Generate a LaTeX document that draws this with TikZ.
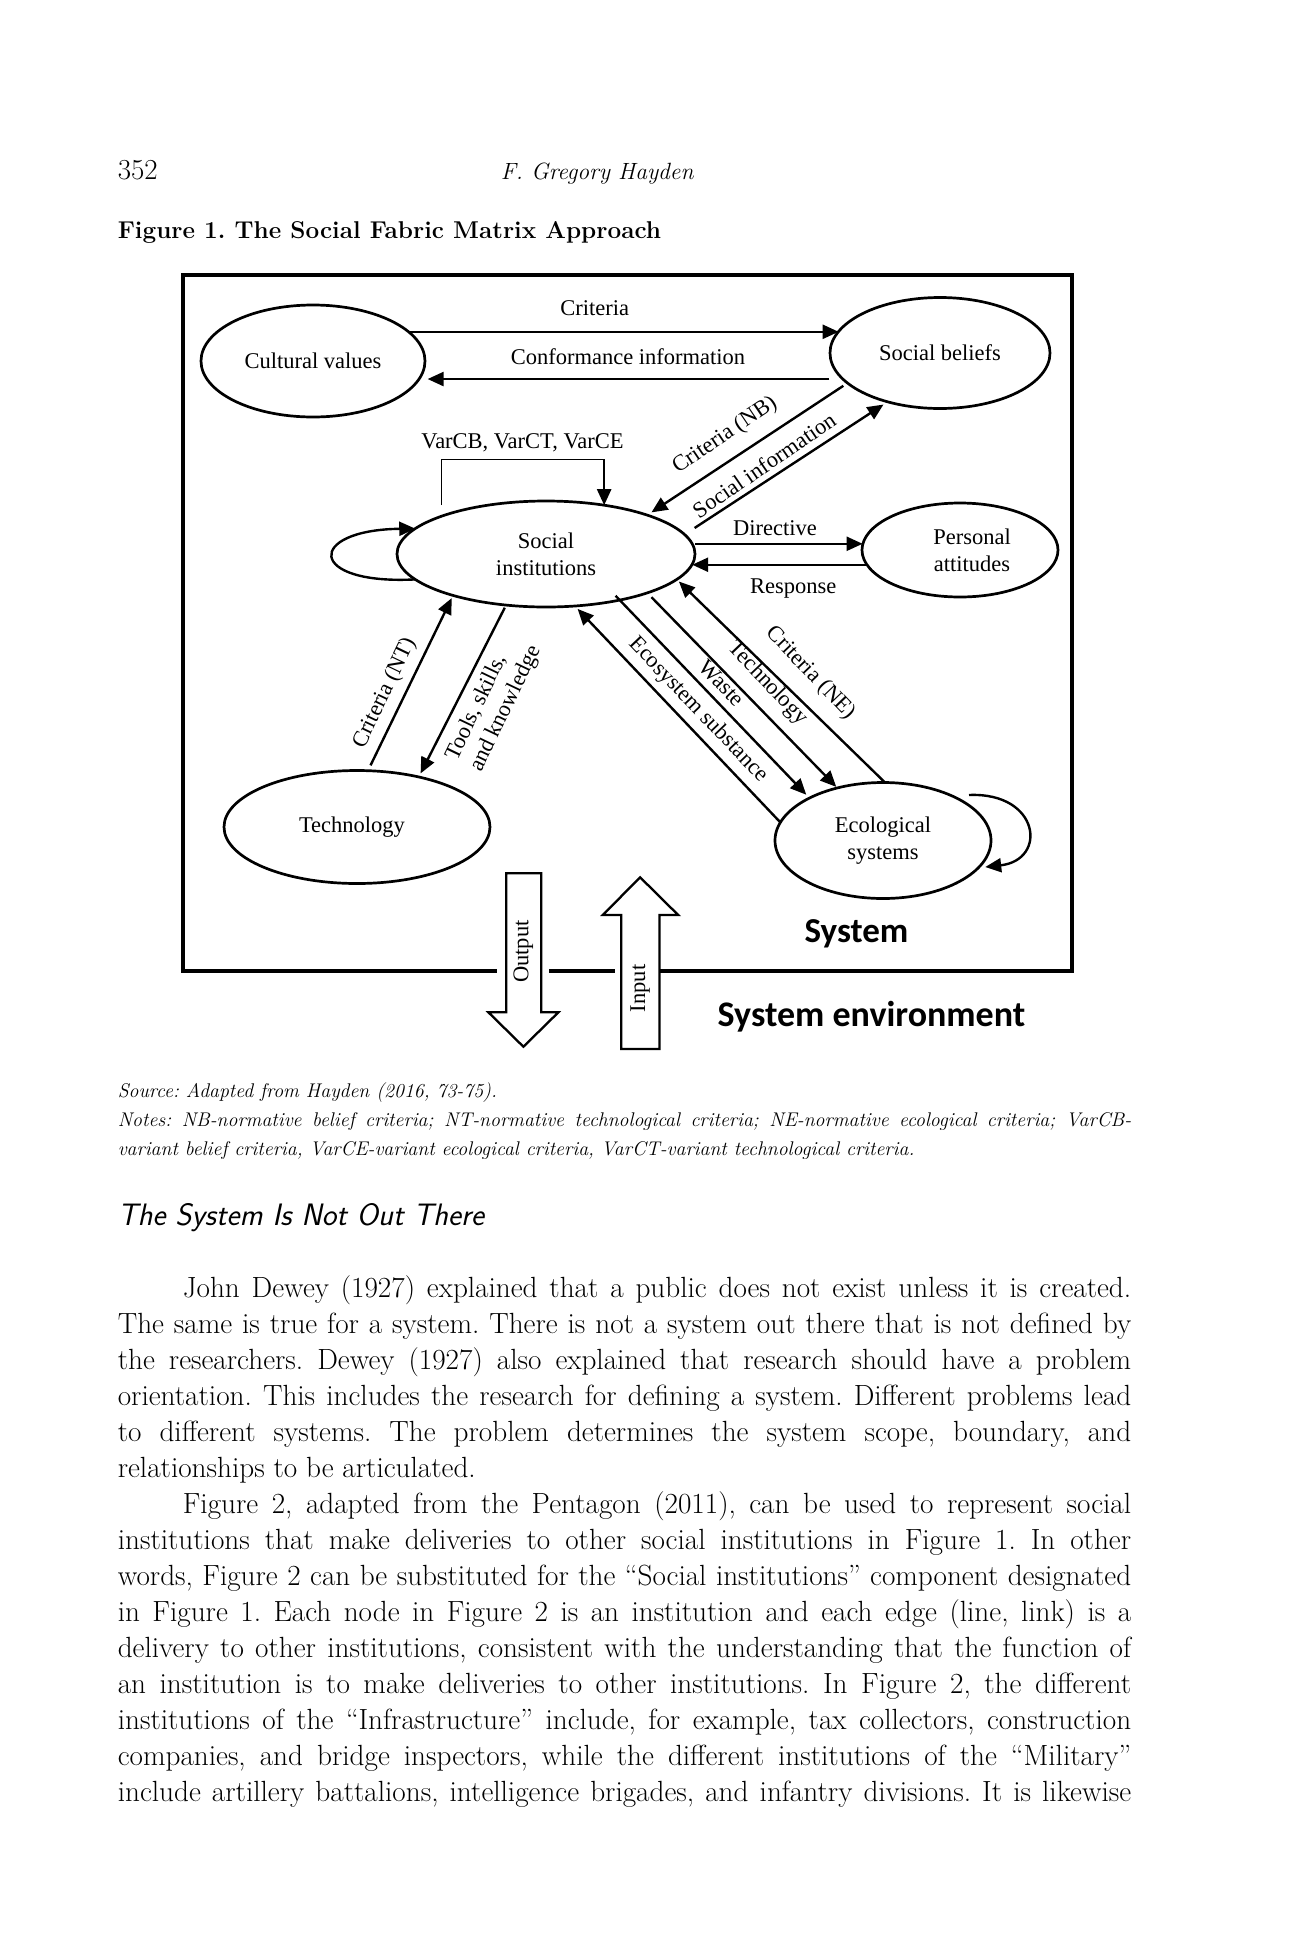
\documentclass[tikz,border=0pt]{standalone}
\usepackage{fontspec}
\newfontfamily\dfont{Liberation Serif}
\newfontfamily\sysfont{Carlito}
\usetikzlibrary{arrows.meta,shapes.geometric}
\begin{document}
\frenchspacing
\begin{tikzpicture}[x=1pt,y=-1pt,
 ell/.style={ellipse, draw, line width=2.7pt, inner sep=0pt, outer sep=0pt, align=center, font=\dfont\fontsize{22.5}{27}\selectfont},
 lab/.style={inner sep=0pt, font=\dfont\fontsize{22.5}{27}\selectfont},
 arr/.style={line width=2.4pt, -{Triangle[length=16pt,width=14pt]}},
 bl/.style={anchor=base west, inner sep=0pt, font=\fontsize{29.2}{36}\selectfont},
 nl/.style={anchor=base west, inner sep=0pt, font=\fontsize{19.8}{28}\selectfont\itshape},
 sys/.style={inner sep=0pt, font=\sysfont\bfseries\fontsize{35}{40}\selectfont},
 blockarrow/.style={draw, fill=white, line width=2.3pt, line join=miter}
]
\fill[white] (0,0) rectangle (1296,1944);
\useasboundingbox (0,0) rectangle (1296,1944);

% ---------- page header ----------
\node[anchor=base west, inner sep=0pt, font=\fontsize{29}{30}\selectfont] (pnum) at (117.6,179) {352};
\node[anchor=base west, inner sep=0pt, font=\fontsize{23.5}{28}\selectfont\itshape] (hdr) at (500.6,179) {F. Gregory Hayden};
\node[anchor=base west, inner sep=0pt, font=\fontsize{24.3}{28}\selectfont\bfseries] (title) at (117.6,238.5) {Figure 1. The Social Fabric Matrix Approach};

% ---------- system box ----------
\draw[line width=4pt] (496.5,970.7) -- (182.7,970.7) -- (182.7,275) -- (1072,275) -- (1072,970.7) -- (660.3,970.7);
\draw[line width=4pt] (549.4,970.7) -- (615.4,970.7);

% ---------- ellipses ----------
\node[ell, minimum width=224pt, minimum height=112pt] (cv) at (313,361) {Cultural values};
\node[ell, minimum width=220pt, minimum height=111pt] (sb) at (940,353) {Social beliefs};
\node[ell, minimum width=298pt, minimum height=106pt] (si) at (546,554) {Social\\institutions};
\node[ell, minimum width=196pt, minimum height=94pt] (pa) at (960,550) {\hspace*{24pt}Personal\\\hspace*{24pt}attitudes};
\node[ell, minimum width=266pt, minimum height=113pt] (tech) at (357,827) {Technology\hspace*{10pt}};
\node[ell, minimum width=216pt, minimum height=116pt] (eco) at (883,840.5) {Ecological\\systems};

% ---------- connectors ----------
\draw[arr] (cv.17) -- (cv.17 -| sb.168);
\draw[arr, shorten <=13.5pt, shorten >=9pt] (sb.195) -- (sb.195 -| cv.-10);

\coordinate (vbL) at (441.7,505);
\coordinate (vbT) at (0,459.3);
\draw[line width=1.4pt] (vbL) -- (vbL |- vbT) -- (vbT -| si.40);
\draw[arr] (vbT -| si.40) -- (si.40);

\draw[arr, shorten <=5pt, shorten >=5pt] (sb.198) -- (si.21);
\draw[arr, shorten <=12pt, shorten >=5pt] (si.8) -- (sb.223);
\draw[arr, shorten <=3pt] (si.4) -- (si.4 -| pa.177);
\draw[arr] (pa.189) -- (pa.189 -| si.-4);
\draw[arr, shorten <=6pt, shorten >=3pt] (tech.79) -- (si.204);
\draw[arr, shorten <=3pt, shorten >=4pt] (si.232) -- (tech.39);
\draw[arr, shorten >=4pt] (eco.170) -- (si.299);
\draw[arr, shorten <=-6pt, shorten >=4.6pt] (si.-32) -- (eco.150);
\draw[arr, shorten <=6pt, shorten >=1.5pt] (si.-21) -- (eco.131);
\draw[arr, shorten >=3pt] (eco.88) -- (si.-11);

% self loops
\draw[arr] (si.191) .. controls (306,585) and (306,530) .. (si.169);
\coordinate (elst) at (969,795);
\draw[arr, shorten >=7pt] (elst) .. controls (1040,792) and (1048,860) .. (eco.-16);

% ---------- connector labels ----------
\node[lab] (lcrit) at (594.7,308.3) {Criteria};
\node[lab] (lconf) at (628,356.7) {Conformance information};
\node[lab] (lvar) at (522.5,443) {VarCB, VarCT, VarCE};
\node[lab, rotate=34] (lnb) at (725,435.5) {Criteria (NB)};
\node[lab, rotate=34.5] (lsi) at (764,465) {Social information};
\node[lab] (ldir) at (775,528.3) {Directive};
\node[lab] (lresp) at (793.3,588.3) {Response};
\node[lab, rotate=64.4] (lnt) at (385,693.3) {Criteria (NT)};
\node[lab, rotate=64.4, align=left] (ltools) at (494,703) {Tools, skills,\\and knowledge};
\node[lab, rotate=-46.3] (leco) at (698.3,710) {Ecosystem substance};
\node[lab, rotate=-46.3] (lwaste) at (721.7,683.3) {Waste};
\node[lab, rotate=-46.3] (ltech) at (767.5,683.3) {Technology};
\node[lab, rotate=-46.3] (lne) at (810.8,673.3) {Criteria (NE)};

% ---------- output / input block arrows ----------
\draw[blockarrow] (506.3,873.3) -- (541.3,873.3) -- (541.3,1012.3) -- (558.4,1012.3) -- (523.4,1046.7) -- (488.4,1012.3) -- (506.3,1012.3) -- cycle;
\draw[blockarrow] (621.2,1049) -- (659.4,1049) -- (659.4,915) -- (678.2,915) -- (640.1,877.3) -- (602.8,915) -- (621.2,915) -- cycle;
\node[lab, rotate=90] (lout) at (523.4,951.7) {Output};
\node[lab, rotate=90] (lin) at (640.1,988.3) {Input};

\node[sys] (lsys) at (856.5,933.3) {System};
\node[sys, font=\sysfont\bfseries\fontsize{36}{40}\selectfont] (lenv) at (871.5,1016.7) {System environment};

% ---------- notes ----------
\node[nl] (src) at (117.6,1097) {Source: Adapted from Hayden (2016, 73-75).};
\node[nl] (notes1) at (117.6,1126) {\makebox[1013.4pt][s]{Notes: NB-normative belief criteria; NT-normative technological criteria; NE-normative ecological criteria; VarCB-}};
\node[nl] (notes2) at (117.6,1155) {variant belief criteria, VarCE-variant ecological criteria, VarCT-variant technological criteria.};

\node[anchor=base west, inner sep=0pt, font=\sffamily\itshape\fontsize{31}{34}\selectfont] (head) at (117.6,1225) {The System Is Not Out There};

% ---------- body ----------
\node[bl] (b1) at (182.7,1297.6) {\makebox[948.3pt][s]{John Dewey (1927) explained that a public does not exist unless it is created.}};
\node[bl] (b2) at (117.6,1333.6) {\makebox[1013.4pt][s]{The same is true for a system. There is not a system out there that is not defined by}};
\node[bl] (b3) at (117.6,1369.5) {\makebox[1013.4pt][s]{the researchers. Dewey (1927) also explained that research should have a problem}};
\node[bl] (b4) at (117.6,1405.5) {\makebox[1013.4pt][s]{orientation. This includes the research for defining a system. Different problems lead}};
\node[bl] (b5) at (117.6,1441.4) {\makebox[1013.4pt][s]{to different systems. The problem determines the system scope, boundary, and}};
\node[bl] (b6) at (117.6,1477.4) {relationships to be articulated.};
\node[bl] (b7) at (182.7,1513.4) {\makebox[948.3pt][s]{Figure 2, adapted from the Pentagon (2011), can be used to represent social}};
\node[bl] (b8) at (117.6,1549.3) {\makebox[1013.4pt][s]{institutions that make deliveries to other social institutions in Figure 1. In other}};
\node[bl] (b9) at (117.6,1585.3) {\makebox[1013.4pt][s]{words, Figure 2 can be substituted for the “Social institutions” component designated}};
\node[bl] (b10) at (117.6,1621.2) {\makebox[1013.4pt][s]{in Figure 1. Each node in Figure 2 is an institution and each edge (line, link) is a}};
\node[bl] (b11) at (117.6,1657.2) {\makebox[1013.4pt][s]{delivery to other institutions, consistent with the understanding that the function of}};
\node[bl] (b12) at (117.6,1693.2) {\makebox[1013.4pt][s]{an institution is to make deliveries to other institutions. In Figure 2, the different}};
\node[bl] (b13) at (117.6,1729.1) {\makebox[1013.4pt][s]{institutions of the “Infrastructure” include, for example, tax collectors, construction}};
\node[bl] (b14) at (117.6,1765.1) {\makebox[1013.4pt][s]{companies, and bridge inspectors, while the different institutions of the “Military”}};
\node[bl] (b15) at (117.6,1801) {\makebox[1013.4pt][s]{include artillery battalions, intelligence brigades, and infantry divisions. It is likewise}};
\end{tikzpicture}
\end{document}
